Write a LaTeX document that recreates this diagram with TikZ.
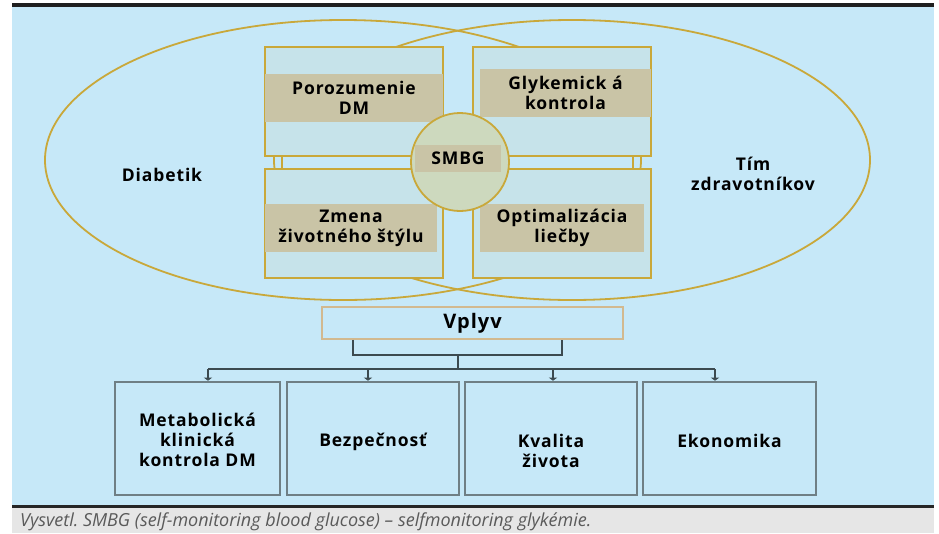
\documentclass[tikz,border=0pt]{standalone}
\usepackage{fontspec}
\setmainfont{Open Sans}[LetterSpace=5]
\newfontfamily\capfont{Open Sans}
\usetikzlibrary{shapes.geometric,arrows.meta}
\definecolor{bgblue}{HTML}{C6E8F8}
\definecolor{boxfill}{HTML}{C6E3EA}
\definecolor{tanstrip}{HTML}{C9C4A6}
\definecolor{goldline}{HTML}{C9A83A}
\definecolor{circfill}{HTML}{CDD9BE}
\definecolor{vplyvline}{HTML}{D2B98F}
\definecolor{outgray}{HTML}{6F7F85}
\definecolor{conncol}{HTML}{3C4A50}
\definecolor{capbg}{HTML}{E6E6E6}
\definecolor{captext}{HTML}{5A5A5A}
\tikzset{
  lbl/.style={font=\fontsize{17.5}{20}\selectfont\bfseries, align=center, text=black, inner sep=0},
  ell/.style={ellipse, draw=goldline, line width=1.8pt, minimum width=596pt, minimum height=280pt, inner sep=0},
  goldbox/.style={rectangle, draw=goldline, fill=boxfill, line width=1.8pt, minimum width=178pt, minimum height=109pt, inner sep=0},
  strip/.style={rectangle, fill=tanstrip, minimum height=48pt, inner sep=0},
  outbox/.style={rectangle, draw=outgray, fill=bgblue, line width=2.6pt, minimum height=113pt, inner sep=0},
  conn/.style={draw=conncol, line width=1.8pt},
  arr/.style={conn, -{Triangle[width=8pt,length=3pt]}},
  goldlink/.style={draw=goldline, line width=2.2pt}
}
\begin{document}
\begin{tikzpicture}[x=1pt,y=-1pt]
\useasboundingbox (0,0) rectangle (939,533);
% background
\fill[bgblue] (12,6) rectangle (934,506);
\fill[capbg] (12,507) rectangle (934,533);
\fill[black!88] (12,3) rectangle (934,6.5);
\fill[black!85] (12,505) rectangle (934,507.5);
\node[anchor=base west, inner sep=0, text=captext, font=\capfont\fontsize{18}{20}\selectfont\itshape] (cap) at (20,526) {Vysvetl.\ SMBG (self-monitoring blood glucose) – selfmonitoring glykémie.};
% ellipses
\node[ell] (le) at (343,160) {};
\node[ell] (re) at (572,160) {};
% gold boxes
\node[goldbox] (tl) at (354,101.5) {};
\node[goldbox] (bl) at (354,223.5) {};
\node[goldbox] (tr) at (562,101.5) {};
\node[goldbox] (br) at (562,223.5) {};
\draw[goldlink] ([xshift=18pt]tl.south west) -- ([xshift=18pt]bl.north west);
\draw[goldlink] ([xshift=-19pt]tr.south east) -- ([xshift=-19pt]br.north east);
% strips
\node[strip, minimum width=178pt] (s1) at (354,98) {};
\node[strip, minimum width=172pt] (s2) at (351,228) {};
\node[strip, minimum width=171pt] (s3) at (565.5,93) {};
\node[strip, minimum width=164pt] (s4) at (562,228) {};
\node[lbl] (t1) at (s1) {Porozumenie\\DM};
\node[lbl] (t2) at (s2) {Zmena\\životného štýlu};
\node[lbl] (t3) at (s3) {Glykemick á\\kontrola};
\node[lbl] (t4) at (s4) {Optimalizácia\\liečby};
% circle
\node[circle, draw=goldline, fill=circfill, line width=1.8pt, minimum size=98pt, inner sep=0] (smbgc) at (460,162) {};
\node[rectangle, fill=tanstrip, minimum width=86pt, minimum height=27pt, inner sep=0] (smbgs) at (458,158.5) {};
\node[lbl] (smbg) at (smbgs) {SMBG};
% side labels
\node[lbl] (diab) at (162,175) {Diabetik};
\node[lbl] (tim) at (753,174) {Tím\\zdravotníkov};
% Vplyv
\node[rectangle, draw=vplyvline, fill=bgblue, line width=1.8pt, minimum width=301pt, minimum height=32pt, inner sep=0] (vplyv) at (472.5,323) {};
\node[lbl, font=\fontsize{20}{22}\selectfont\bfseries] (vt) at (vplyv) {Vplyv};
% bottom boxes
\node[outbox, minimum width=165pt] (b1) at (197.5,438.5) {};
\node[outbox, minimum width=172pt] (b2) at (373,438.5) {};
\node[outbox, minimum width=172pt] (b3) at (551,438.5) {};
\node[outbox, minimum width=173pt] (b4) at (729.5,438.5) {};
\node[lbl] (bt1) at (197.5,440) {Metabolická\\klinická\\kontrola DM};
\node[lbl] (bt2) at (373,442) {Bezpečnosť};
\node[lbl] (bt3) at (551,451) {Kvalita\\života};
\node[lbl] (bt4) at (729.5,441) {Ekonomika};
% connectors
\coordinate (jn) at (458,354);
\coordinate (a1) at (208,369);
\coordinate (a2) at (368,369);
\coordinate (a3) at (553,369);
\coordinate (a4) at (715,369);
\draw[conn] ([xshift=32pt]vplyv.south west) -- ++(0,15) -| ([xshift=-62pt]vplyv.south east);
\draw[conn] (jn) -- (a1 -| jn);
\draw[conn] (a1) -- (a4);
\draw[arr] (a1) -- (a1 |- b1.north);
\draw[arr] (a2) -- (a2 |- b2.north);
\draw[arr] (a3) -- (a3 |- b3.north);
\draw[arr] (a4) -- (a4 |- b4.north);
\end{tikzpicture}
\end{document}
